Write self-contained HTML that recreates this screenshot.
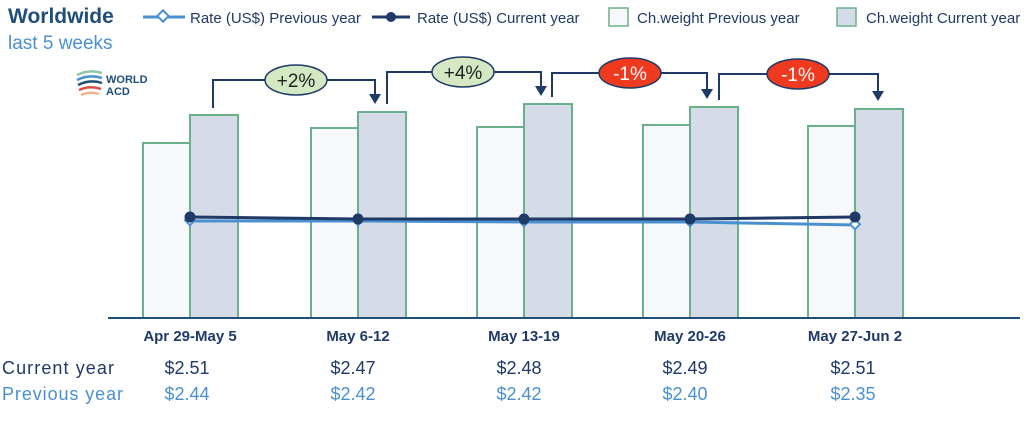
<!DOCTYPE html>
<html><head><style>
body{margin:0;background:#fff;}
svg text{font-family:"Liberation Sans",sans-serif;}
</style></head><body>
<svg width="1031" height="417" viewBox="0 0 1031 417" xmlns="http://www.w3.org/2000/svg">
<text x="8" y="23" font-size="21" font-weight="bold" fill="#1f4e79">Worldwide</text>
<text x="8" y="49" font-size="19" fill="#4a90d0">last 5 weeks</text>
<g fill="none" stroke-width="2.5">
<path d="M77 75 q12 -6 25 -2" stroke="#8fc9a8"/>
<path d="M77 80 q12 -6 25 -2" stroke="#4a90d0"/>
<path d="M78 85 q12 -6 24 -2" stroke="#1f4e79"/>
<path d="M79 90 q11 -5 22 -1" stroke="#e04a3a"/>
<path d="M81 95 q9 -4 18 -1" stroke="#f2b48a"/>
</g>
<text x="106" y="83" font-size="11" font-weight="bold" fill="#1f4e79">WORLD</text>
<text x="106" y="95" font-size="11" font-weight="bold" fill="#1f4e79">ACD</text>
<!-- legend -->
<line x1="143" y1="17" x2="185" y2="17" stroke="#4a90d0" stroke-width="3"/>
<rect x="159" y="12" width="8" height="8" fill="#fff" stroke="#4a90d0" stroke-width="2" transform="rotate(45 163 16)"/>
<text x="190" y="23" font-size="15" fill="#1f3a66">Rate (US$) Previous year</text>
<line x1="372" y1="17" x2="410" y2="17" stroke="#1f3a66" stroke-width="3"/>
<circle cx="391" cy="17" r="5" fill="#1f3a66"/>
<text x="417" y="23" font-size="15" fill="#1f3a66">Rate (US$) Current year</text>
<rect x="609" y="8" width="19" height="18" fill="#f6f8fc" stroke="#6ab08a" stroke-width="1.5"/>
<text x="637" y="23" font-size="15" fill="#1f3a66">Ch.weight Previous year</text>
<rect x="837" y="8" width="19" height="18" fill="#d5dce8" stroke="#6ab08a" stroke-width="1.5"/>
<text x="866" y="23" font-size="15" fill="#1f3a66">Ch.weight Current year</text>
<!-- bars -->
<g stroke="#6ab08a" stroke-width="2">
<rect x="143" y="143" width="47" height="175" fill="#f6f8fc"/>
<rect x="190" y="115" width="48" height="203" fill="#d5dce8"/>
<rect x="311" y="128" width="47" height="190" fill="#f6f8fc"/>
<rect x="358" y="112" width="48" height="206" fill="#d5dce8"/>
<rect x="477" y="127" width="47" height="191" fill="#f6f8fc"/>
<rect x="524" y="104" width="48" height="214" fill="#d5dce8"/>
<rect x="643" y="125" width="47" height="193" fill="#f6f8fc"/>
<rect x="690" y="107" width="48" height="211" fill="#d5dce8"/>
<rect x="808" y="126" width="47" height="192" fill="#f6f8fc"/>
<rect x="855" y="109" width="48" height="209" fill="#d5dce8"/>
</g>
<line x1="108" y1="318" x2="1020" y2="318" stroke="#1f4e79" stroke-width="2"/>
<!-- lines -->
<polyline points="190,221 358,221 524,222 690,222 855,225" fill="none" stroke="#4a90d0" stroke-width="3"/>
<g fill="#fff" stroke="#4a90d0" stroke-width="2">
<rect x="186" y="217" width="7" height="7" transform="rotate(45 190 221)"/>
<rect x="354" y="217" width="7" height="7" transform="rotate(45 358 221)"/>
<rect x="520" y="218" width="7" height="7" transform="rotate(45 524 222)"/>
<rect x="686" y="218" width="7" height="7" transform="rotate(45 690 222)"/>
<rect x="851" y="221" width="7" height="7" transform="rotate(45 855 225)"/>
</g>
<polyline points="190,217 358,219 524,219 690,219 855,217" fill="none" stroke="#1f3a66" stroke-width="3"/>
<g fill="#1f3a66">
<circle cx="190" cy="217" r="5.5"/><circle cx="358" cy="219" r="5.5"/><circle cx="524" cy="219" r="5.5"/><circle cx="690" cy="219" r="5.5"/><circle cx="855" cy="217" r="5.5"/>
</g>
<!-- brackets -->
<g fill="none" stroke="#1f3a66" stroke-width="2">
<polyline points="213,108 213,80 375,80 375,96"/>
<polyline points="387,104 387,72 541,72 541,88"/>
<polyline points="552,97 552,73 707,73 707,91"/>
<polyline points="719,100 719,74 878,74 878,93"/>
</g>
<g fill="#1f3a66">
<polygon points="369,94 381,94 375,104"/>
<polygon points="535,86 547,86 541,96"/>
<polygon points="701,89 713,89 707,99"/>
<polygon points="872,91 884,91 878,101"/>
</g>
<g stroke="#1f3a66" stroke-width="1.5">
<ellipse cx="296" cy="80" rx="31" ry="15" fill="#d4e8c4"/>
<ellipse cx="463" cy="72" rx="31" ry="15" fill="#d4e8c4"/>
<ellipse cx="630" cy="73" rx="31" ry="15" fill="#ef3a1f"/>
<ellipse cx="798" cy="74" rx="31" ry="15" fill="#ef3a1f"/>
</g>
<g font-size="19" text-anchor="middle">
<text x="296" y="87" fill="#222">+2%</text>
<text x="463" y="79" fill="#222">+4%</text>
<text x="630" y="80" fill="#fff">-1%</text>
<text x="798" y="81" fill="#fff">-1%</text>
</g>
<!-- x labels -->
<g font-size="15" font-weight="bold" fill="#1f3a66" text-anchor="middle">
<text x="190" y="341">Apr 29-May 5</text>
<text x="358" y="341">May 6-12</text>
<text x="524" y="341">May 13-19</text>
<text x="690" y="341">May 20-26</text>
<text x="855" y="341">May 27-Jun 2</text>
</g>
<g font-size="18" fill="#1f3a66">
<text x="2" y="374" textLength="112">Current year</text>
<g text-anchor="middle"><text x="187" y="374">$2.51</text><text x="353" y="374">$2.47</text><text x="519" y="374">$2.48</text><text x="685" y="374">$2.49</text><text x="853" y="374">$2.51</text></g>
</g>
<g font-size="18" fill="#4a90d0">
<text x="2" y="400" textLength="121">Previous year</text>
<g text-anchor="middle"><text x="187" y="400">$2.44</text><text x="353" y="400">$2.42</text><text x="519" y="400">$2.42</text><text x="685" y="400">$2.40</text><text x="853" y="400">$2.35</text></g>
</g>
</svg>
</body></html>
